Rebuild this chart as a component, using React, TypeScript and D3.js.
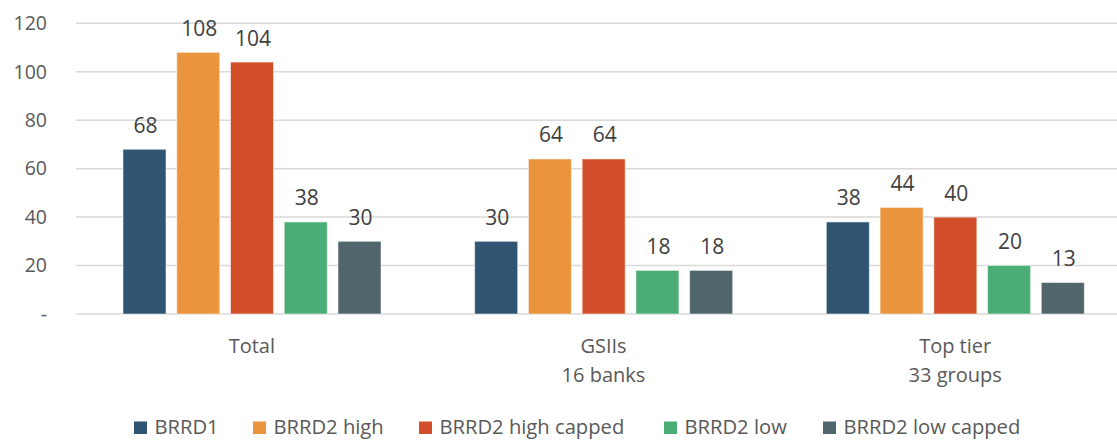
import React from "react";
import * as d3 from "d3";

const categories: string[][] = [["Total"], ["GSIIs", "16 banks"], ["Top tier", "33 groups"]];
const seriesNames = ["BRRD1", "BRRD2 high", "BRRD2 high capped", "BRRD2 low", "BRRD2 low capped"];
const seriesColors = ["#2F5573", "#EA953D", "#D34F2B", "#4AAD75", "#50656C"];
const brrd1 = [68, 30, 38];
const brrd2High = [108, 64, 44];
const brrd2HighCapped = [104, 64, 40];
const brrd2Low = [38, 18, 20];
const brrd2LowCapped = [30, 18, 13];
const yTicks = [0, 20, 40, 60, 80, 100, 120];

const seriesValues = [brrd1, brrd2High, brrd2HighCapped, brrd2Low, brrd2LowCapped];

const W = 1117;
const H = 440;
const FONT = "'Open Sans', 'Noto Sans', sans-serif";
const TEXT = "#595959";

// legend item x positions (square left edge)
const legendX = [134, 253, 419, 664, 823];

export default function App() {
  const catKeys = categories.map((c) => c.join(" "));
  const x0 = d3.scaleBand<string>().domain(catKeys).range([76, 1131]).paddingInner(0).paddingOuter(0);
  const x1 = d3.scaleBand<string>().domain(seriesNames).range([47, 305]).paddingInner(0.2).paddingOuter(0);
  const y = d3.scaleLinear().domain([0, 120]).range([314, 23.3]);

  return (
    <div style={{ position: "absolute", left: 0, top: 0 }}>
      <svg width={W} height={H} style={{ display: "block", background: "#fff" }} fontFamily={FONT}>
        {/* gridlines */}
        {yTicks.map((t) => (
          <line key={"g" + t} x1={76} x2={W} y1={y(t)} y2={y(t)} stroke="#D9D9D9" strokeWidth={1.5} />
        ))}
        {/* y tick labels */}
        {yTicks.map((t) => (
          <text
            key={"t" + t}
            x={47}
            y={y(t)}
            dy="0.35em"
            textAnchor="end"
            fontSize={19.5}
            fill={TEXT}
          >
            {t === 0 ? "-" : t}
          </text>
        ))}
        {/* bars */}
        {catKeys.map((ck, ci) => (
          <g key={ck} transform={`translate(${x0(ck)},0)`}>
            {seriesNames.map((s, si) => {
              const v = seriesValues[si][ci];
              const bx = x1(s)!;
              return (
                <g key={s}>
                  <rect
                    x={bx}
                    y={y(v)}
                    width={x1.bandwidth()}
                    height={y(0) - y(v)}
                    fill={seriesColors[si]}
                    stroke="#ffffff"
                    strokeOpacity={0.5}
                    strokeWidth={1}
                  />
                  <text
                    x={bx + x1.bandwidth() / 2 + 1}
                    y={y(v) - 16.5}
                    textAnchor="middle"
                    fontSize={21}
                    fill="#404040"
                  >
                    {v}
                  </text>
                </g>
              );
            })}
            {categories[ci].map((line, li) => (
              <text
                key={li}
                x={x0.bandwidth() / 2}
                y={353 + li * 29}
                textAnchor="middle"
                fontSize={20}
                fill={TEXT}
              >
                {line}
              </text>
            ))}
          </g>
        ))}
        {/* legend */}
        {seriesNames.map((s, i) => (
          <g key={"l" + s}>
            <rect x={legendX[i]} y={421.5} width={13} height={12.5} fill={seriesColors[i]} />
            <text x={legendX[i] + 20.5} y={434} fontSize={20.2} fill={TEXT}>
              {s}
            </text>
          </g>
        ))}
      </svg>
    </div>
  );
}
